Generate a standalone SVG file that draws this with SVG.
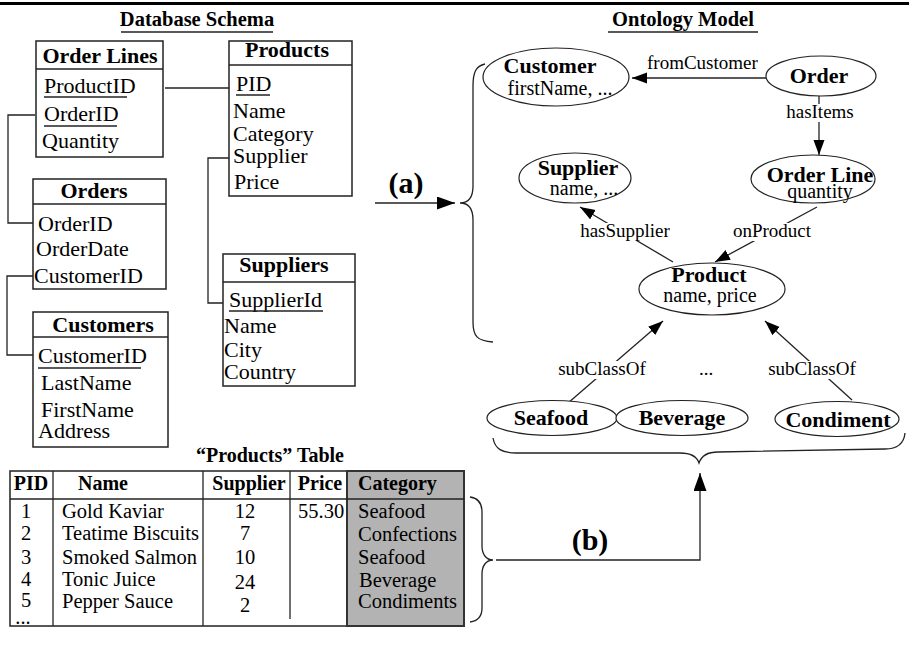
<svg xmlns="http://www.w3.org/2000/svg" width="909" height="660" viewBox="0 0 909 660">
<style>
text{font-family:"Liberation Serif","Times New Roman",serif;fill:#000}
.t{font-size:20.5px;font-weight:bold}
.h{font-size:22px;font-weight:bold}
.i{font-size:22px}
.nb{font-size:22px;font-weight:bold}
.na{font-size:20px}
.el{font-size:19px}
.th{font-size:20px;font-weight:bold}
.td{font-size:20.5px}
.big{font-size:30px;font-weight:bold}
.box{fill:#fff;stroke:#222;stroke-width:1.5}
.ln{fill:none;stroke:#222;stroke-width:1.3}
.ul{stroke:#222;stroke-width:1.3}
.ell{fill:#fff;stroke:#222;stroke-width:1.2}
.bg{fill:#fff}
.c{text-anchor:middle}
</style>
<defs>
<marker id="ah" markerUnits="userSpaceOnUse" markerWidth="16" markerHeight="12" refX="15" refY="5.5" orient="auto">
<path d="M0,0 L15,5.5 L0,11 z" fill="#000"/>
</marker>
<marker id="ahb" markerUnits="userSpaceOnUse" markerWidth="19" markerHeight="14" refX="18" refY="6.5" orient="auto">
<path d="M0,0 L18,6.5 L0,13 z" fill="#000"/>
</marker>
</defs>
<rect x="0" y="2" width="909" height="3" fill="#000"/>

<g id="titles">
<text class="t c" x="197" y="26">Database Schema</text>
<line class="ul" x1="121" y1="32" x2="273" y2="32"/>
<text class="t c" x="683" y="26">Ontology Model</text>
<line class="ul" x1="608" y1="32" x2="758" y2="32"/>
</g>

<g id="connectors">
<line class="ln" x1="165" y1="88" x2="229" y2="88"/>
<polyline class="ln" points="35,115 8,115 8,223 34,223"/>
<polyline class="ln" points="34,276 7,276 7,355 34,355"/>
<polyline class="ln" points="229,158 208,158 208,303 229,303"/>

<path class="ln" d="M485,64 C476,66 473,72 473,86 L473,186 C473,198 468,203 460,203 C468,203 473,208 473,220 L473,322 C473,336 477,341 493,342"/>
<line class="ln" x1="375" y1="203" x2="455" y2="203" marker-end="url(#ahb)"/>
<text class="big c" x="406" y="193">(a)</text>

<path class="ln" d="M493,438 C495,449 502,453 516,453 L680,453 C692,453 697,457 699,463 C701,457 706,452 718,452 L885,449 C898,449 904,443 905,433"/>
<path class="ln" d="M470,497 C478,498 482,503 482,512 L482,546 C482,554 486,560 493,560 C486,560 482,566 482,574 L482,608 C482,617 478,621 470,622"/>
<polyline class="ln" points="496,560 700,560 700,473" marker-end="url(#ahb)"/>
<text class="big c" x="590" y="550">(b)</text>

<line class="ln" x1="766" y1="78" x2="632" y2="78" marker-end="url(#ah)"/>
<text class="el" x="647" y="69">fromCustomer</text>

<line class="ln" x1="819" y1="96" x2="819" y2="155" marker-end="url(#ah)"/>
<rect class="bg" x="784" y="104" width="71" height="18"/>
<text class="el c" x="820" y="118">hasItems</text>

<line class="ln" x1="673" y1="262" x2="580" y2="207" marker-end="url(#ah)"/>
<rect class="bg" x="578" y="223" width="94" height="18"/>
<text class="el c" x="625" y="237">hasSupplier</text>

<line class="ln" x1="817" y1="207" x2="715" y2="262" marker-end="url(#ah)"/>
<rect class="bg" x="731" y="223" width="82" height="18"/>
<text class="el c" x="772" y="237">onProduct</text>

<line class="ln" x1="568" y1="403" x2="663" y2="321" marker-end="url(#ah)"/>
<rect class="bg" x="555" y="361" width="94" height="18"/>
<text class="el c" x="602" y="375">subClassOf</text>

<line class="ln" x1="852" y1="400" x2="765" y2="321" marker-end="url(#ah)"/>
<rect class="bg" x="766" y="361" width="93" height="18"/>
<text class="el c" x="812" y="375">subClassOf</text>

<text class="el c" x="706" y="375">...</text>
</g>

<g id="tbl-order-lines">
<rect class="box" x="36" y="41" width="127" height="116"/>
<line class="ul" x1="36" y1="69" x2="163" y2="69"/>
<text class="h c" x="100" y="63">Order Lines</text>
<text class="i" x="44" y="93">ProductID</text>
<line class="ul" x1="44" y1="97" x2="127" y2="97"/>
<text class="i" x="44" y="121">OrderID</text>
<line class="ul" x1="44" y1="126" x2="117" y2="126"/>
<text class="i" x="42" y="148">Quantity</text>
</g>

<g id="tbl-products">
<rect class="box" x="229" y="41" width="123" height="155"/>
<line class="ul" x1="229" y1="65" x2="352" y2="65"/>
<text class="h c" x="287" y="57">Products</text>
<text class="i" x="236" y="91">PID</text>
<line class="ul" x1="236" y1="95" x2="270" y2="95"/>
<text class="i" x="233" y="118">Name</text>
<text class="i" x="233" y="141">Category</text>
<text class="i" x="233" y="163">Supplier</text>
<text class="i" x="234" y="189">Price</text>
</g>

<g id="tbl-orders">
<rect class="box" x="33" y="179" width="133" height="110"/>
<line class="ul" x1="33" y1="204" x2="166" y2="204"/>
<text class="h c" x="94" y="198">Orders</text>
<text class="i" x="38" y="231">OrderID</text>
<text class="i" x="36" y="256">OrderDate</text>
<text class="i" x="34" y="283">CustomerID</text>
</g>

<g id="tbl-customers">
<rect class="box" x="33" y="312" width="135" height="135"/>
<line class="ul" x1="33" y1="337" x2="168" y2="337"/>
<text class="h c" x="103" y="332">Customers</text>
<text class="i" x="38" y="363">CustomerID</text>
<line class="ul" x1="38" y1="368" x2="141" y2="368"/>
<text class="i" x="41" y="390">LastName</text>
<text class="i" x="41" y="417">FirstName</text>
<text class="i" x="38" y="438">Address</text>
</g>

<g id="tbl-suppliers">
<rect class="box" x="223" y="254" width="132" height="132"/>
<line class="ul" x1="223" y1="282" x2="355" y2="282"/>
<text class="h c" x="284" y="272">Suppliers</text>
<text class="i" x="229" y="307">SupplierId</text>
<line class="ul" x1="229" y1="311" x2="323" y2="311"/>
<text class="i" x="224" y="333">Name</text>
<text class="i" x="224" y="357">City</text>
<text class="i" x="224" y="379">Country</text>
</g>

<g id="node-customer">
<ellipse class="ell" cx="556" cy="77" rx="73" ry="29"/>
<text class="nb c" x="550" y="73">Customer</text>
<text class="na c" x="560" y="95">firstName, ...</text>
</g>
<g id="node-order">
<ellipse class="ell" cx="821" cy="76" rx="55" ry="20"/>
<text class="nb c" x="819" y="83">Order</text>
</g>
<g id="node-order-line">
<ellipse class="ell" cx="813" cy="179" rx="62" ry="24"/>
<text class="nb c" x="820" y="182">Order Line</text>
<text class="na c" x="820" y="198">quantity</text>
</g>
<g id="node-supplier">
<ellipse class="ell" cx="575" cy="178" rx="56" ry="25"/>
<text class="nb c" x="578" y="175">Supplier</text>
<text class="na c" x="584" y="195">name, ...</text>
</g>
<g id="node-product">
<ellipse class="ell" cx="712" cy="289" rx="73" ry="26"/>
<text class="nb c" x="709" y="282">Product</text>
<text class="na c" x="710" y="302">name, price</text>
</g>
<g id="node-seafood">
<ellipse class="ell" cx="552" cy="418" rx="65" ry="17.5"/>
<text class="nb c" x="551" y="425">Seafood</text>
</g>
<g id="node-beverage">
<ellipse class="ell" cx="682" cy="418" rx="66" ry="17.5"/>
<text class="nb c" x="682" y="425">Beverage</text>
</g>
<g id="node-condiment">
<ellipse class="ell" cx="837" cy="419" rx="62" ry="17.5"/>
<text class="nb c" x="838" y="427">Condiment</text>
</g>

<g id="products-table">
<text class="th c" x="270" y="462">“Products” Table</text>
<rect x="10" y="471" width="454" height="155" fill="#fff" stroke="#222" stroke-width="1.5"/>
<rect x="347" y="471" width="117" height="155" fill="#b3b3b3" stroke="#333" stroke-width="2"/>
<line class="ul" x1="10" y1="499" x2="464" y2="499"/>
<line class="ul" x1="53" y1="471" x2="53" y2="626"/>
<line class="ul" x1="203" y1="471" x2="203" y2="626"/>
<line class="ul" x1="290" y1="471" x2="290" y2="619"/>
<text class="th c" x="31" y="490">PID</text>
<text class="th c" x="103" y="490">Name</text>
<text class="th c" x="249" y="490">Supplier</text>
<text class="th c" x="320" y="490">Price</text>
<text class="th" x="358" y="490">Category</text>
<text class="td c" x="26" y="518">1</text>
<text class="td c" x="26" y="540">2</text>
<text class="td c" x="26" y="564">3</text>
<text class="td c" x="26" y="586">4</text>
<text class="td c" x="26" y="607">5</text>
<text class="td c" x="23" y="624">...</text>
<text class="td" x="62" y="518">Gold Kaviar</text>
<text class="td" x="62" y="540">Teatime Biscuits</text>
<text class="td" x="62" y="564">Smoked Salmon</text>
<text class="td" x="62" y="586">Tonic Juice</text>
<text class="td" x="62" y="608">Pepper Sauce</text>
<text class="td c" x="245" y="518">12</text>
<text class="td c" x="245" y="540">7</text>
<text class="td c" x="245" y="564">10</text>
<text class="td c" x="245" y="589">24</text>
<text class="td c" x="245" y="612">2</text>
<text class="td" x="298" y="518">55.30</text>
<text class="td" x="358" y="518">Seafood</text>
<text class="td" x="358" y="541">Confections</text>
<text class="td" x="358" y="564">Seafood</text>
<text class="td" x="359" y="587">Beverage</text>
<text class="td" x="358" y="608">Condiments</text>
</g>
</svg>
